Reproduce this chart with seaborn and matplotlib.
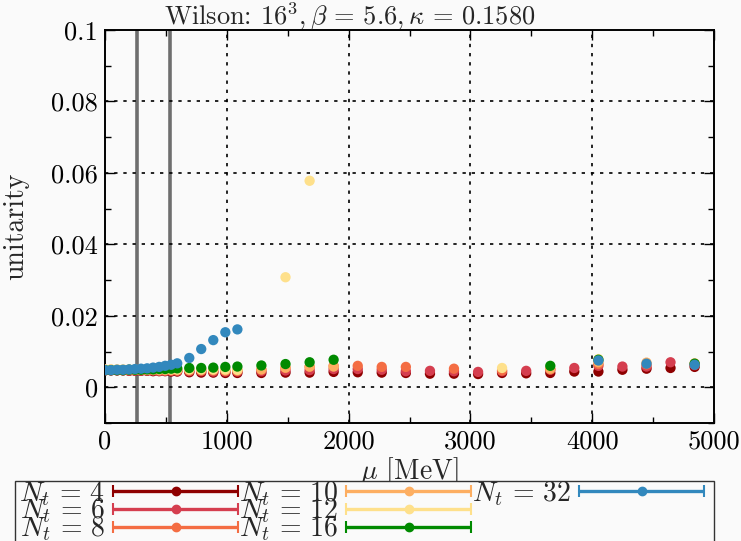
import numpy as np
import pandas as pd
import matplotlib
matplotlib.use("Agg")
import matplotlib.pyplot as plt
import seaborn as sns
from matplotlib.legend_handler import HandlerErrorbar
from matplotlib.patches import Rectangle
from matplotlib.ticker import FixedLocator, FixedFormatter, MultipleLocator

nan = np.nan

mu = [0, 49, 99, 148, 198, 247, 296, 346, 395, 445, 494, 543, 593,
      692, 790, 889, 988, 1087,
      1284, 1482, 1680, 1877, 2075, 2272, 2470, 2668, 2865, 3063, 3260,
      3458, 3656, 3853, 4051, 4248, 4446, 4643, 4841]

nt4 = [0.0047, 0.0047, 0.0047, 0.0047, 0.0046, 0.0046, 0.0046, 0.0046, 0.0045, 0.0045, 0.0045, 0.0044, 0.0044,
       0.0042, 0.0041, 0.0041, 0.0040, 0.0040,
       0.0040, 0.0041, 0.0041, 0.0043, 0.0042, 0.0041, 0.0040, 0.0038, 0.0038, 0.0037, 0.0040,
       0.0039, 0.0040, 0.0044, 0.0044, 0.0049, 0.0052, 0.0054, 0.0057]
nt6 = [0.0048, 0.0048, 0.0048, 0.0048, 0.0047, 0.0047, 0.0047, 0.0047, 0.0047, 0.0046, 0.0046, 0.0046, 0.0046,
       0.0045, 0.0045, 0.0044, 0.0044, 0.0044,
       0.0045, 0.0047, 0.0048, 0.0051, 0.0051, 0.0049, 0.0045, 0.0046, 0.0045, 0.0043, 0.0045,
       0.0046, 0.0049, 0.0054, 0.0060, 0.0058, 0.0058, 0.0070, 0.0062]
nt8 = [0.0049, 0.0049, 0.0049, 0.0048, 0.0048, 0.0048, 0.0048, 0.0048, 0.0048, 0.0047, 0.0047, 0.0047, 0.0047,
       0.0047, 0.0047, 0.0047, 0.0046, 0.0046,
       0.0049, 0.0054, 0.0057, 0.0060, 0.0060, 0.0057, 0.0057, nan, 0.0052, nan, 0.0047,
       nan, 0.0050, nan, 0.0065, nan, 0.0064, nan, 0.0064]
nt10 = [0.0049, 0.0049, 0.0049, 0.0049, 0.0049, 0.0049, 0.0049, 0.0049, 0.0049, 0.0049, 0.0049, 0.0049, 0.0049,
        0.0049, 0.0049, 0.0049, 0.0048, 0.0048,
        0.0050, 0.0055, 0.0058, 0.0058, nan, nan, nan, nan, nan, nan, nan,
        nan, 0.0052, nan, 0.0070, nan, 0.0069, nan, 0.0067]
nt12 = [0.0050, 0.0050, 0.0050, 0.0050, 0.0050, 0.0050, 0.0050, 0.0050, 0.0050, 0.0050, 0.0050, 0.0050, 0.0050,
        0.0050, 0.0050, 0.0050, 0.0050, 0.0049,
        nan, 0.0308, 0.0578, nan, nan, nan, nan, nan, nan, nan, 0.0054,
        nan, nan, nan, 0.0079, nan, nan, nan, nan]
nt16 = [0.0048, 0.0048, 0.0048, 0.0048, 0.0049, 0.0049, 0.0049, 0.0050, 0.0050, 0.0051, 0.0051, 0.0052, 0.0053,
        0.0054, 0.0054, 0.0055, 0.0057, 0.0058,
        0.0061, 0.0065, 0.0070, 0.0077, nan, nan, nan, nan, nan, nan, nan,
        nan, 0.0060, nan, 0.0077, nan, nan, nan, 0.0066]
nt32 = [0.0048, 0.0048, 0.0049, 0.0049, 0.0050, 0.0051, 0.0052, 0.0053, 0.0055, 0.0057, 0.0060, 0.0063, 0.0067,
        0.0082, 0.0107, 0.0132, 0.0154, 0.0162,
        nan, nan, nan, nan, nan, nan, nan, nan, nan, nan, nan,
        nan, nan, nan, 0.0075, nan, 0.0066, nan, 0.0063]

series_labels = ["4", "6", "8", "10", "12", "16", "32"]
series_values = [nt4, nt6, nt8, nt10, nt12, nt16, nt32]
colors = ["#8e0000", "#d53e4f", "#f46d43", "#fdae61", "#fee08b", "#008a00", "#3288bd"]
vlines_mu = [263, 534]

title = r"Wilson: $16^3, \beta\,=\,5.6, \kappa\,=\,0.1580$"
ytick_vals = [0, 0.02, 0.04, 0.06, 0.08, 0.1]
ytick_labels = ["0", "0.02", "0.04", "0.06", "0.08", "0.1"]
xtick_vals = [0, 1000, 2000, 3000, 4000, 5000]
xtick_labels = ["0", "1000", "2000", "3000", "4000", "5000"]

rows = []
for lab, vals in zip(series_labels, series_values):
    for m, v in zip(mu, vals):
        if not np.isnan(v):
            rows.append({"mu": m, "u": v, "Nt": lab})
df = pd.DataFrame(rows)

sns.set_style("ticks")
plt.rcParams["font.family"] = "serif"
plt.rcParams["font.serif"] = ["cmr10", "DejaVu Serif"]
plt.rcParams["mathtext.fontset"] = "cm"
plt.rcParams["axes.formatter.use_mathtext"] = True
plt.rcParams["axes.unicode_minus"] = False

bg = "#fafafa"
fig = plt.figure(figsize=(7.41, 5.41), dpi=100, facecolor=bg)
ax = fig.add_axes([105/741, 1-423/541, (714-105)/741, (423-30)/541])
ax.set_facecolor(bg)

for xv in vlines_mu:
    ax.axvline(xv, color="#6e6e6e", lw=2.6, zorder=1)

sns.scatterplot(data=df, x="mu", y="u", hue="Nt", hue_order=series_labels,
                palette=colors, s=55, edgecolor="none", linewidth=0,
                legend=False, ax=ax, zorder=3)

ax.set_xlim(0, 5000)
ax.set_ylim(-0.01, 0.1)
ax.xaxis.set_major_locator(FixedLocator(xtick_vals))
ax.xaxis.set_major_formatter(FixedFormatter(xtick_labels))
ax.xaxis.set_minor_locator(MultipleLocator(500))
ax.yaxis.set_major_locator(FixedLocator(ytick_vals))
ax.yaxis.set_major_formatter(FixedFormatter(ytick_labels))
ax.yaxis.set_minor_locator(MultipleLocator(0.01))
ax.tick_params(which="both", direction="in", top=True, right=True, colors="black",
               labelsize=19)
ax.tick_params(which="major", length=7, width=1, pad=5)
ax.tick_params(which="minor", length=4, width=1)
for sp in ax.spines.values():
    sp.set_linewidth(1.4)
    sp.set_color("black")

for xv in xtick_vals[1:-1]:
    ax.axvline(xv, color="black", lw=1.2, ls=(0, (2, 3.5)), zorder=2)
for yv in ytick_vals[:-1]:
    ax.axhline(yv, color="black", lw=1.2, ls=(0, (2, 3.5)), zorder=2)

ax.set_xlabel(r"$\mu$ [MeV]", fontsize=20)
ax.xaxis.set_label_coords(0.5, -0.083)
ax.set_ylabel("unitarity", fontsize=20)
ax.yaxis.set_label_coords(-0.125, 0.5)
fig.text(350/741, 1-17/541, title, ha="center", va="center", fontsize=19)

handles = []
for lab, c in zip(series_labels, colors):
    h = ax.errorbar([nan], [nan], xerr=[1.0], fmt="o", color=c, ms=6,
                    elinewidth=2.4, capsize=4, capthick=1.5,
                    label=r"$N_t\,=\,%s$" % lab)
    handles.append(h)
blank1 = Rectangle((0, 0), 0, 0, visible=False, label=" ")
blank2 = Rectangle((0, 0), 0, 0, visible=False, label=" ")
leg_handles = handles + [blank1, blank2]
leg_labels = [h.get_label() for h in handles] + ["", ""]

# legend frame (gnuplot-style key box, extends past the bottom edge)
box = Rectangle((15/741, -0.05), (714-15)/741, (1-481/541) + 0.05,
                transform=fig.transFigure, facecolor=bg, edgecolor="#333333",
                linewidth=1.0, zorder=0)
fig.patches.append(box)

top_y = 1 - 479/541
leg = fig.legend(handles=leg_handles, labels=leg_labels, loc="upper left",
                 bbox_to_anchor=(19/741, top_y - 0.3, (704-19)/741, 0.3),
                 mode="expand", ncol=3, markerfirst=False, fontsize=20,
                 handlelength=4.5, handletextpad=0.3, columnspacing=0.4,
                 labelspacing=-0.4, borderpad=0.0, borderaxespad=0,
                 frameon=False,
                 handler_map={type(handles[0]): HandlerErrorbar(xerr_size=2.25)})

fig.savefig("out.png", dpi=100, facecolor=bg)
